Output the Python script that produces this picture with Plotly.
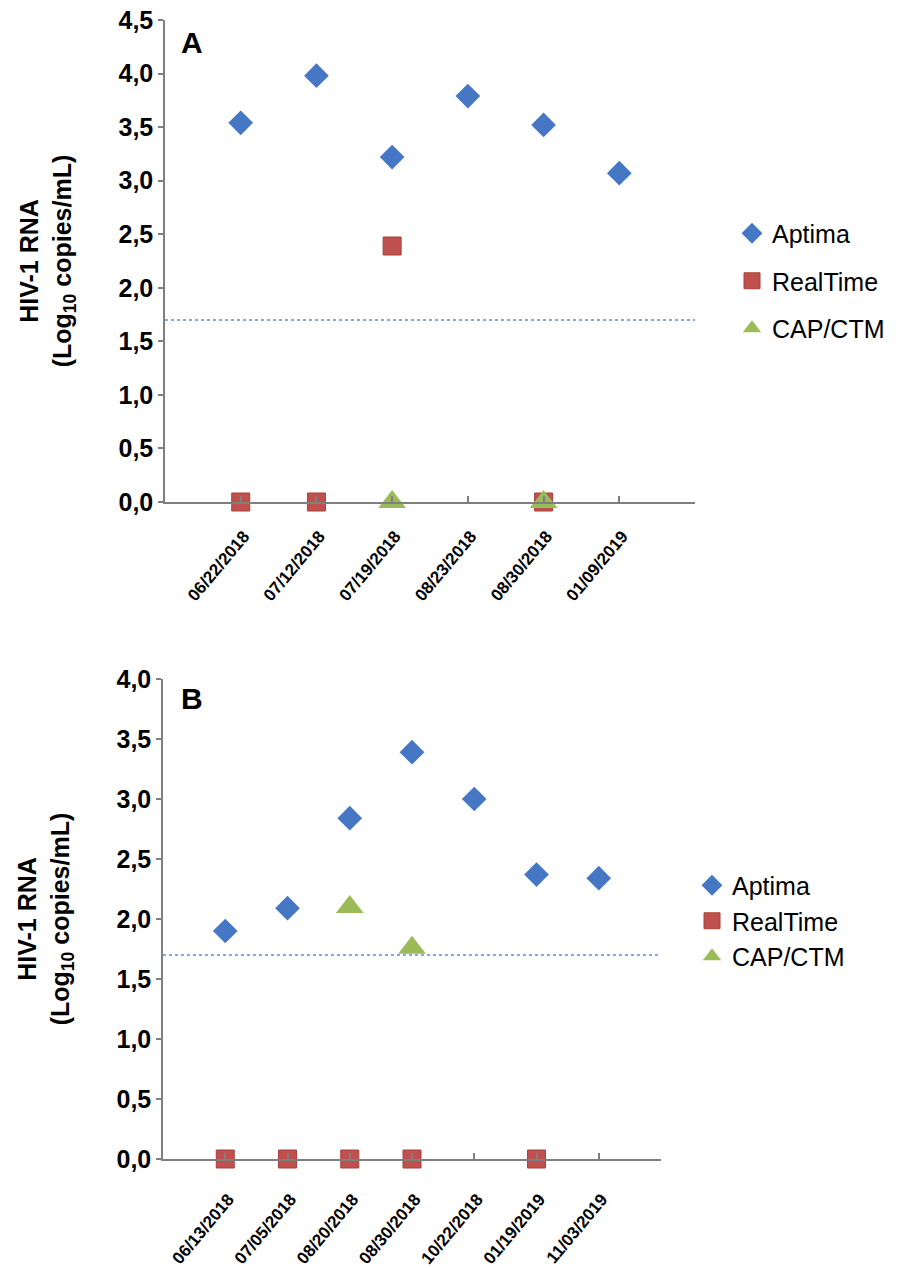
import plotly.graph_objects as go

# ---------------- data ----------------
dates_a = ["06/22/2018", "07/12/2018", "07/19/2018", "08/23/2018", "08/30/2018", "01/09/2019"]
aptima_a = [3.54, 3.98, 3.22, 3.79, 3.52, 3.07]
realtime_a = [0.0, 0.0, 2.39, None, 0.0, None]
capctm_a = [None, None, 0.0, None, 0.0, None]

dates_b = ["06/13/2018", "07/05/2018", "08/20/2018", "08/30/2018", "10/22/2018", "01/19/2019", "11/03/2019"]
aptima_b = [1.90, 2.09, 2.84, 3.39, 3.00, 2.37, 2.34]
realtime_b = [0.0, 0.0, 0.0, 0.0, None, 0.0, None]
capctm_b = [None, None, 2.10, 1.76, None, None, None]

LOD = 1.7
series_names = ["Aptima", "RealTime", "CAP/CTM"]

# ---------------- styles ----------------
BLUE = "#4677C4"
RED = "#C0504D"
GREEN = "#9BBB59"
AXIS = "#7F7F7F"
FONT = "Liberation Sans, Arial, sans-serif"

styles = [
    dict(symbol="diamond", size=19, color=BLUE, line=dict(width=0)),
    dict(symbol="square", size=18, color=RED, line=dict(width=1, color="#A8403D")),
    dict(symbol="triangle-up", size=24, color=GREEN, line=dict(width=0)),
]

fig = go.Figure()


def add_panel(dates, series, xa, ya, legend):
    xs = list(range(len(dates)))
    for name, vals, st in zip(series_names, series, styles):
        px = [x for x, v in zip(xs, vals) if v is not None]
        py = [v for v in vals if v is not None]
        fig.add_trace(go.Scatter(
            x=px, y=py, mode="markers", name=name, marker=st,
            xaxis=xa, yaxis=ya, legend=legend, cliponaxis=False,
            legendgroup=legend + name,
        ))


add_panel(dates_a, [aptima_a, realtime_a, capctm_a], "x", "y", "legend")
add_panel(dates_b, [aptima_b, realtime_b, capctm_b], "x2", "y2", "legend2")

W, H = 900, 1268


def xaxis_cfg(dates, left, right, standoff, shift):
    n = len(dates)
    return dict(
        domain=[left / W, right / W],
        range=[-1, n],
        tickmode="array",
        tickvals=list(range(n)),
        ticktext=dates,
        tickangle=-50,
        ticks="inside", ticklen=6, tickcolor=AXIS, tickwidth=1.5,
        minor=dict(tickmode="linear", tick0=-1, dtick=1, ticks="inside",
                   ticklen=6, tickcolor=AXIS, tickwidth=1.5, showgrid=False),
        showline=True, linecolor=AXIS, linewidth=1.5,
        showgrid=False, zeroline=False, automargin=False,
        ticklabelstandoff=standoff, ticklabelshift=shift,
        tickfont=dict(family=FONT, size=17, color="black", weight="bold"),
    )


def yaxis_cfg(top_val, top_px, bottom_px, anchor):
    return dict(
        domain=[1 - bottom_px / H, 1 - top_px / H],
        range=[0, top_val],
        tickmode="linear", tick0=0, dtick=0.5, tickformat=".1f",
        ticks="outside", ticklen=5, tickcolor=AXIS, tickwidth=1.5,
        showline=True, linecolor=AXIS, linewidth=1.5,
        showgrid=False, zeroline=False, anchor=anchor, automargin=False,
        tickfont=dict(family=FONT, size=25, color="black", weight="bold"),
        title=dict(text="HIV-1 RNA<br>(Log<sub>10</sub> copies/mL)",
                   font=dict(family=FONT, size=25, color="black", weight="bold"),
                   standoff=40),
    )


fig.update_layout(
    width=W, height=H,
    margin=dict(l=0, r=0, t=0, b=0),
    paper_bgcolor="white", plot_bgcolor="white",
    separators=",.",
    xaxis=xaxis_cfg(dates_a, 165, 695, 16, 3) | dict(anchor="y"),
    yaxis=yaxis_cfg(4.5, 20, 502, "x"),
    xaxis2=xaxis_cfg(dates_b, 163, 661, 22, 3) | dict(anchor="y2"),
    yaxis2=yaxis_cfg(4.0, 679, 1159, "x2"),
    legend=dict(x=732 / W, y=1 - 281 / H, xanchor="left", yanchor="middle",
                font=dict(family=FONT, size=25, color="black"),
                tracegroupgap=12, itemwidth=30, bgcolor="rgba(0,0,0,0)"),
    legend2=dict(x=692 / W, y=1 - 921 / H, xanchor="left", yanchor="middle",
                 font=dict(family=FONT, size=25, color="black"),
                 tracegroupgap=0, itemwidth=30, bgcolor="rgba(0,0,0,0)"),
    showlegend=True,
)

# detection-limit reference lines
for xr, yr in [("x", "y"), ("x2", "y2")]:
    fig.add_shape(type="line", xref=xr + " domain", yref=yr, x0=0, x1=1, y0=LOD, y1=LOD,
                  line=dict(color="#5B8FD6", width=1.5, dash="dot"))

# panel letters
for letter, yc in [("A", 42), ("B", 698)]:
    fig.add_annotation(text=letter, xref="paper", yref="paper", x=179 / W, y=1 - yc / H,
                       xanchor="left", yanchor="middle",
                       showarrow=False, font=dict(family=FONT, size=30, color="black", weight="bold"))

fig.write_html("out.html")
